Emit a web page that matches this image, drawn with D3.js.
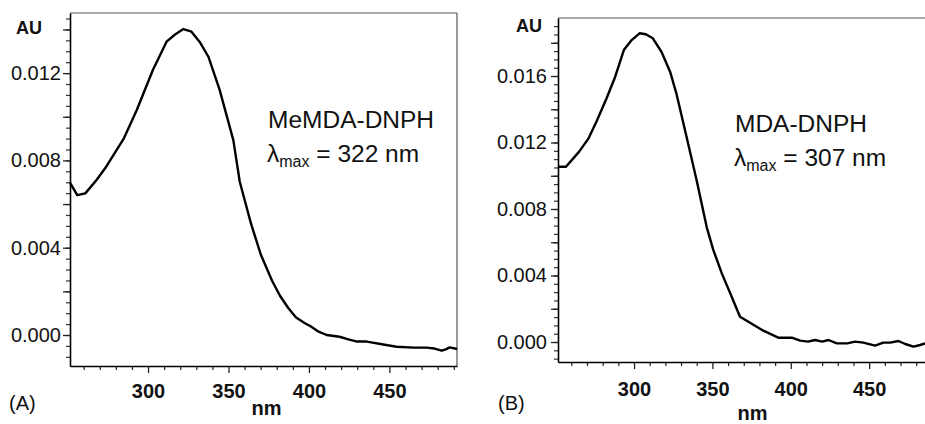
<!DOCTYPE html>
<html>
<head>
<meta charset="utf-8">
<script src="https://cdn.jsdelivr.net/npm/d3@7"></script>
<style>
  html, body { margin: 0; padding: 0; background: #fff; }
  svg { display: block; font-family: "Liberation Sans", Arial, sans-serif; }
</style>
</head>
<body>
<div id="chart"></div>
<script>
// -- spectra --
const nmA = [251.5, 256, 261, 268, 274, 285, 293, 303, 311.5, 317, 322, 327, 332, 337.5, 344.5, 353, 357, 360, 364, 370, 377, 382, 387, 392, 397.5, 401, 406, 411, 419, 424.5, 430, 436, 448, 454.5, 465, 473, 478, 482.5, 485, 487.5, 492];
const auA = [0.00698, 0.00641, 0.00649, 0.0071, 0.00771, 0.00901, 0.01031, 0.01214, 0.01344, 0.01378, 0.01402, 0.0139, 0.01344, 0.01275, 0.01123, 0.00893, 0.00702, 0.0062, 0.0051, 0.0037, 0.0025, 0.0018, 0.00125, 0.0008, 0.00054, 0.0004, 0.00015, 0.0, -0.00008, -0.0002, -0.0003, -0.0003, -0.00046, -0.00054, -0.00058, -0.00058, -0.00062, -0.00072, -0.00066, -0.00057, -0.00064];

const nmB = [251.7, 256.6, 265, 271, 276, 282.5, 288, 293.5, 298.5, 303.5, 307.5, 312, 317.5, 323, 327, 333.5, 340, 346.4, 350.6, 356, 362.3, 367.6, 374, 382.5, 392, 400.6, 406, 411, 415.5, 420, 424, 429.4, 436, 441, 446.3, 453.8, 459, 463.4, 468.7, 473, 478.3, 482.5, 485.7];
const auB = [0.01054, 0.01054, 0.01145, 0.01225, 0.01325, 0.01466, 0.01596, 0.01756, 0.01816, 0.01857, 0.01851, 0.01827, 0.01746, 0.01626, 0.01496, 0.01235, 0.0097, 0.0069, 0.00553, 0.00413, 0.00272, 0.00152, 0.00116, 0.00068, 0.00026, 0.00026, 0.00008, 0.00002, 0.00012, 0.00002, 0.00012, -0.00008, -0.00008, 0.00002, -0.00004, -0.00022, -0.00004, -0.00004, 0.00006, -0.00012, -0.00028, -0.00018, -0.00008];

const xTickLabels = [300, 350, 400, 450];
const xMinorTicks = d3.range(260, 500, 10);
const yLabelsA = [0.000, 0.004, 0.008, 0.012];
const yLabelsB = [0.000, 0.004, 0.008, 0.012, 0.016];

const W = 925, H = 424;
const font = '"Liberation Sans", Arial, sans-serif';

const svg = d3.select('#chart').append('svg')
  .attr('width', W)
  .attr('height', H)
  .attr('viewBox', [0, 0, W, H]);

function drawPanel(p) {
  const x = d3.scaleLinear().domain([251.5, 492]).range([p.left, p.right]);
  const y = d3.scaleLinear().domain(p.yDomain).range([p.bottom, p.top]);
  const g = svg.append('g');

  // frame: top/right grey, left/bottom black
  g.append('line').attr('x1', p.left).attr('x2', p.right).attr('y1', p.top).attr('y2', p.top)
    .attr('stroke', '#555').attr('stroke-width', 1.2);
  g.append('line').attr('x1', p.right).attr('x2', p.right).attr('y1', p.top).attr('y2', p.bottom)
    .attr('stroke', '#555').attr('stroke-width', 1.2);

  // y axis: minor every 0.0005, major every 0.002, labels every 0.004
  const yMin = Math.ceil(p.yDomain[0] / 0.0005) * 0.0005;
  const yMinor = d3.range(Math.round(yMin / 0.0005), Math.floor(p.yDomain[1] / 0.0005 + 1e-6) + 1).map(i => i * 0.0005);
  const yMajor = yMinor.filter(v => Math.abs(Math.round(v / 0.002) * 0.002 - v) < 1e-9);

  const yMinorG = g.append('g').attr('transform', `translate(${p.left},0)`)
    .call(d3.axisLeft(y).tickValues(yMinor).tickSize(4).tickSizeOuter(0).tickFormat(''));
  yMinorG.select('.domain').remove();
  yMinorG.selectAll('.tick line').attr('stroke', '#333').attr('stroke-width', 1.2);

  const yMajorG = g.append('g').attr('transform', `translate(${p.left},0)`)
    .call(d3.axisLeft(y).tickValues(yMajor).tickSize(7).tickSizeOuter(0)
      .tickFormat(v => p.yLabels.some(l => Math.abs(l - v) < 1e-9) ? d3.format('.3f')(Math.abs(v) < 1e-9 ? 0 : v) : ''));
  yMajorG.select('.domain').attr('stroke', '#000').attr('stroke-width', 1.6);
  yMajorG.selectAll('.tick line').attr('stroke', '#222').attr('stroke-width', 1.3);
  yMajorG.selectAll('.tick text')
    .attr('x', -p.yLabelGap)
    .attr('font-family', font).attr('font-size', 20).attr('fill', '#111');

  // x axis
  const xMinorG = g.append('g').attr('transform', `translate(0,${p.bottom})`)
    .call(d3.axisBottom(x).tickValues(xMinorTicks.filter(v => v % 50 !== 0 && v <= 492)).tickSize(4).tickSizeOuter(0).tickFormat(''));
  xMinorG.select('.domain').remove();
  xMinorG.selectAll('.tick line').attr('stroke', '#222').attr('stroke-width', 1.2);

  const xMajorG = g.append('g').attr('transform', `translate(0,${p.bottom})`)
    .call(d3.axisBottom(x).tickValues(xTickLabels).tickSize(7).tickSizeOuter(0).tickFormat(d3.format('d')));
  xMajorG.select('.domain').attr('stroke', '#000').attr('stroke-width', 1.6);
  xMajorG.selectAll('.tick line').attr('stroke', '#222').attr('stroke-width', 1.3);
  xMajorG.selectAll('.tick text')
    .attr('y', p.xLabelBase).attr('dy', 0)
    .attr('font-family', font).attr('font-size', 20).attr('font-weight', 'bold').attr('fill', '#111');

  // spectrum
  const pts = p.nm.map((n, i) => [n, p.au[i]]);
  g.append('path')
    .datum(pts)
    .attr('fill', 'none')
    .attr('stroke', '#000')
    .attr('stroke-width', 2.4)
    .attr('stroke-linejoin', 'round')
    .attr('d', d3.line().x(d => x(d[0])).y(d => y(d[1])));

  // labels
  g.append('text').attr('x', p.auX).attr('y', p.auY)
    .attr('font-family', font).attr('font-size', 18).attr('font-weight', 'bold').attr('fill', '#111')
    .text('AU');
  g.append('text').attr('x', (p.left + Math.min(p.right, W)) / 2 + p.nmShift).attr('y', p.nmY)
    .attr('text-anchor', 'middle')
    .attr('font-family', font).attr('font-size', 20).attr('font-weight', 'bold').attr('fill', '#111')
    .text('nm');
  g.append('text').attr('x', p.tagX).attr('y', 410)
    .attr('font-family', font).attr('font-size', 20).attr('fill', '#111')
    .text(p.tag);

  g.append('text').attr('x', p.annX).attr('y', p.annY)
    .attr('font-family', font).attr('font-size', 24.5).attr('fill', '#111')
    .text(p.name);
  const lam = g.append('text').attr('x', p.annX - 1).attr('y', p.annY + 34)
    .attr('font-family', font).attr('font-size', 24.5).attr('fill', '#111');
  lam.append('tspan').text('λ');
  lam.append('tspan').attr('font-size', 16).attr('dy', 5).text('max');
  lam.append('tspan').attr('dy', -5).text(' = ' + p.lmax + ' nm');
}

drawPanel({
  left: 70, right: 457, top: 13, bottom: 366,
  yDomain: [-0.00142, 0.014754],
  yLabels: yLabelsA, yLabelGap: 9,
  xLabelBase: 32,
  nm: nmA, au: auA,
  auX: 16, auY: 34,
  nmY: 415, nmShift: 3,
  tag: '(A)', tagX: 9,
  name: 'MeMDA-DNPH', lmax: 322, annX: 268, annY: 128
});

drawPanel({
  left: 558, right: 935, top: 18, bottom: 362,
  yDomain: [-0.001203, 0.01949],
  yLabels: yLabelsB, yLabelGap: 11,
  xLabelBase: 34,
  nm: nmB, au: auB,
  auX: 516, auY: 32,
  nmY: 420, nmShift: 11,
  tag: '(B)', tagX: 498,
  name: 'MDA-DNPH', lmax: 307, annX: 735, annY: 132
});
</script>
</body>
</html>
